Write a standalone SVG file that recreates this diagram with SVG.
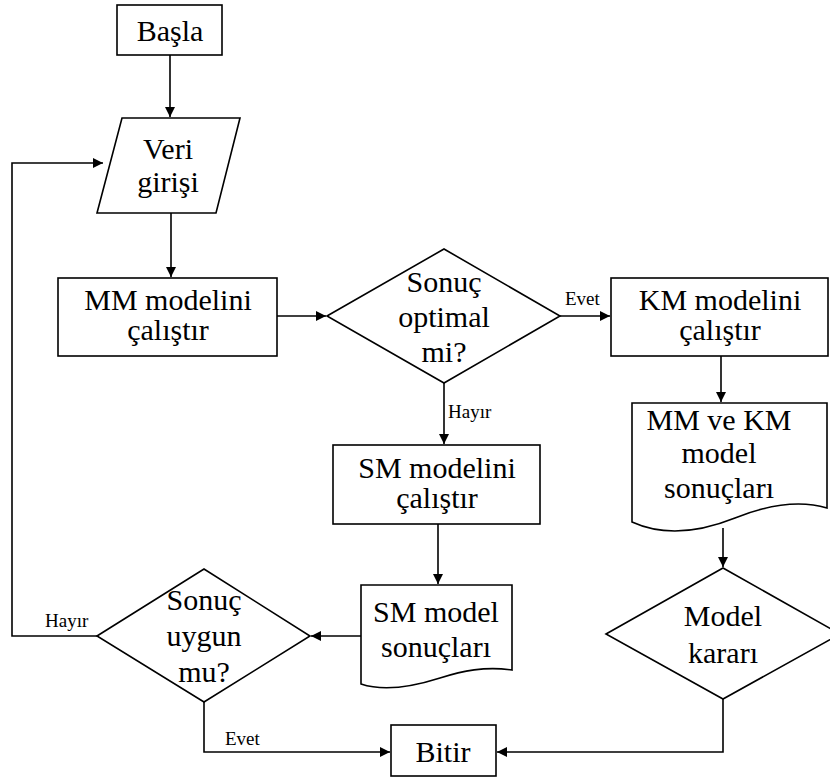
<svg xmlns="http://www.w3.org/2000/svg" width="830" height="780" viewBox="0 0 830 780">
<defs>
<marker id="arr" markerWidth="11" markerHeight="11" refX="10" refY="5" orient="auto" markerUnits="userSpaceOnUse">
<path d="M0,0 L10,5 L0,10 z" fill="#000"/>
</marker>
<style>
.s{fill:#fff;stroke:#000;stroke-width:1.6}
.t{font-family:"Liberation Serif","Times New Roman",serif;font-size:30px;fill:#000;text-anchor:middle}
.l{font-family:"Liberation Serif","Times New Roman",serif;font-size:19px;fill:#000}
.c{fill:none;stroke:#000;stroke-width:1.6}
</style>
</defs>
<rect width="830" height="780" fill="#fff"/>
<g id="connectors">
<path class="c" d="M170,55 V117" marker-end="url(#arr)"/>
<path class="c" d="M171,213 V277" marker-end="url(#arr)"/>
<path class="c" d="M277,316 H326" marker-end="url(#arr)"/>
<path class="c" d="M560,316 H610" marker-end="url(#arr)"/>
<text class="l" x="565" y="305">Evet</text>
<path class="c" d="M444,383 V444" marker-end="url(#arr)"/>
<text class="l" x="448" y="418">Hayır</text>
<path class="c" d="M721,356 V402" marker-end="url(#arr)"/>
<path class="c" d="M723,528 V567" marker-end="url(#arr)"/>
<path class="c" d="M438,524 V584" marker-end="url(#arr)"/>
<path class="c" d="M361,636 H311" marker-end="url(#arr)"/>
<path class="c" d="M97,636 H12 V163 H103" marker-end="url(#arr)"/>
<text class="l" x="45" y="627">Hayır</text>
<path class="c" d="M204,702 V752 H390" marker-end="url(#arr)"/>
<text class="l" x="225" y="745">Evet</text>
<path class="c" d="M723,699 V752 H497" marker-end="url(#arr)"/>
</g>
<g id="basla">
<rect class="s" x="117" y="5" width="105" height="50"/>
<text class="t" x="170" y="41">Başla</text>
</g>
<g id="veri">
<polygon class="s" points="122,118 240,118 216,213 97,213"/>
<text class="t" x="168" y="159">Veri</text>
<text class="t" x="168" y="192">girişi</text>
</g>
<g id="mm">
<rect class="s" x="58" y="278" width="219" height="78"/>
<text class="t" x="168" y="310">MM modelini</text>
<text class="t" x="168" y="340">çalıştır</text>
</g>
<g id="d1">
<polygon class="s" points="327,316 444,249 560,316 444,383"/>
<text class="t" x="444" y="292">Sonuç</text>
<text class="t" x="444" y="327">optimal</text>
<text class="t" x="444" y="362">mi?</text>
</g>
<g id="km">
<rect class="s" x="611" y="278" width="217" height="78"/>
<text class="t" x="720" y="310">KM modelini</text>
<text class="t" x="720" y="340">çalıştır</text>
</g>
<g id="doc1">
<path class="s" d="M632,403 H827 V508 C800,500 770,504 735,518 C700,532 665,537 632,522 Z"/>
<text class="t" x="719" y="430">MM ve KM</text>
<text class="t" x="719" y="463">model</text>
<text class="t" x="719" y="498">sonuçları</text>
</g>
<g id="sm">
<rect class="s" x="333" y="445" width="207" height="79"/>
<text class="t" x="437" y="478">SM modelini</text>
<text class="t" x="437" y="508">çalıştır</text>
</g>
<g id="doc2">
<path class="s" d="M361,585 H512 V670 C485,666 462,671 440,678 C415,686 385,692 361,684 Z"/>
<text class="t" x="436" y="622">SM model</text>
<text class="t" x="436" y="657">sonuçları</text>
</g>
<g id="d2">
<polygon class="s" points="97,636 204,569 310,636 204,702"/>
<text class="t" x="204" y="610">Sonuç</text>
<text class="t" x="204" y="646">uygun</text>
<text class="t" x="204" y="682">mu?</text>
</g>
<g id="d3">
<polygon class="s" points="606,634 723,568 840,634 723,699"/>
<text class="t" x="723" y="626">Model</text>
<text class="t" x="723" y="663">kararı</text>
</g>
<g id="bitir">
<rect class="s" x="391" y="725" width="105" height="51"/>
<text class="t" x="443" y="762">Bitir</text>
</g>
</svg>
